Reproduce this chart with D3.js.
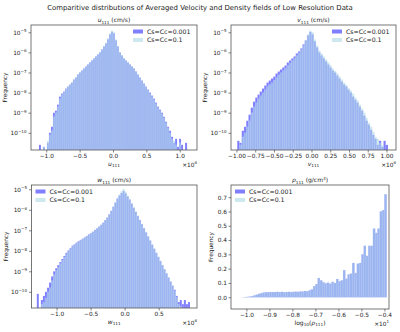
<!DOCTYPE html>
<head>
<meta charset="utf-8">
<script src="https://cdn.jsdelivr.net/npm/d3@7"></script>
<style>
  body { margin: 0; background: #fff; }
  text { font-family: "DejaVu Sans", sans-serif; fill: #222; }
</style>
</head>
<body>
<div id="chart"></div>
<script>
// ---- data (log10 of frequency per bin for the velocity panels, null = empty bin) ----
var seriesNames = ["Cs=Cc=0.001", "Cs=Cc=0.1"];

// u component, bins of 0.03 starting at -1.11 (x 1e6 cm/s)
var uStart = -1.11, uWidth = 0.03;
var uLow = [-10.6, null, -10.7, null, -10.5, -10.0, -9.7, -9.0, -8.9, -8.6,
  -8.2, -8.05, -7.95, -7.8, -7.7, -7.6, -7.5, -7.35, -7.25, -7.1,
  -7.0, -6.9, -6.8, -6.7, -6.6, -6.5, -6.4, -6.3, -6.2, -6.1,
  -6.0, -5.85, -5.7, -5.55, -5.35, -5.1, -4.97, -5.05, -5.4, -5.7,
  -6.0, -6.15, -6.3, -6.4, -6.5, -6.6, -6.7, -6.8, -6.95, -7.1,
  -7.25, -7.4, -7.55, -7.7, -7.85, -8.0, -8.15, -8.3, -8.5, -8.7,
  -8.85, -9.0, -9.2, -9.45, -9.7, -9.9, -10.2, -10.5, -10.3, -10.7,
  -10.3, -10.6, null, -10.5, null];
var uHigh = [null, null, -10.7, null, -10.4, -10.1, -9.9, -9.2, -9.0, -8.7,
  -8.3, -8.1, -7.98, -7.82, -7.7, -7.6, -7.5, -7.35, -7.25, -7.1,
  -7.0, -6.9, -6.8, -6.7, -6.6, -6.5, -6.4, -6.3, -6.2, -6.1,
  -6.0, -5.85, -5.7, -5.52, -5.3, -5.05, -4.92, -5.0, -5.35, -5.68,
  -5.98, -6.13, -6.28, -6.4, -6.5, -6.6, -6.7, -6.8, -6.95, -7.1,
  -7.25, -7.4, -7.55, -7.72, -7.88, -8.05, -8.2, -8.35, -8.55, -8.75,
  -8.9, -9.05, -9.25, -9.5, -9.75, -10.0, -10.3, -10.4, -10.6, null,
  -10.5, null, null, null, null];

// v component, bins of 0.03 starting at -0.99
var vStart = -0.99, vWidth = 0.03;
var vLow = [-10.4, -10.5, -9.9, -9.7, -9.4, -9.1, -8.75, -8.45, -8.25, -8.1,
  -7.95, -7.8, -7.65, -7.5, -7.4, -7.3, -7.2, -7.05, -6.95, -6.85,
  -6.75, -6.65, -6.5, -6.4, -6.3, -6.2, -6.05, -5.95, -5.8, -5.6,
  -5.4, -5.15, -4.98, -5.1, -5.45, -5.75, -6.0, -6.15, -6.3, -6.45,
  -6.6, -6.75, -6.9, -7.0, -7.15, -7.3, -7.45, -7.6, -7.7, -7.85,
  -8.0, -8.2, -8.35, -8.5, -8.7, -8.9, -9.15, -9.4, -9.6, -9.85,
  -10.1, -10.3, -10.6, -10.4, -10.7, -10.4, -10.6, null];
var vHigh = [null, -10.6, -10.2, -10.0, -9.7, -9.4, -9.0, -8.7, -8.5, -8.3,
  -8.15, -8.0, -7.85, -7.7, -7.6, -7.5, -7.38, -7.25, -7.12, -7.0,
  -6.9, -6.8, -6.65, -6.52, -6.4, -6.3, -6.15, -6.02, -5.85, -5.65,
  -5.4, -5.1, -4.92, -5.0, -5.35, -5.65, -5.9, -6.05, -6.2, -6.35,
  -6.5, -6.65, -6.8, -6.92, -7.05, -7.2, -7.35, -7.5, -7.62, -7.78,
  -7.9, -8.05, -8.25, -8.4, -8.6, -8.8, -9.0, -9.25, -9.5, -9.7,
  -9.95, -10.2, -10.3, -10.5, -10.6, null, null, null];

// w component, bins of 0.03 starting at -1.29
var wStart = -1.29, wWidth = 0.03;
var wLow = [-10.1, null, -10.4, -10.2, -10.0, -9.8, -9.55, -9.25, -9.0, -8.85,
  -8.7, -8.55, -8.4, -8.25, -8.1, -7.98, -7.87, -7.75, -7.68, -7.6,
  -7.53, -7.47, -7.41, -7.35, -7.28, -7.2, -7.14, -7.07, -6.98, -6.9,
  -6.82, -6.73, -6.63, -6.5, -6.38, -6.22, -6.05, -5.85, -5.65, -5.45,
  -5.3, -5.18, -5.08, -5.2, -5.35, -5.5, -5.7, -5.9, -6.1, -6.3,
  -6.5, -6.7, -6.9, -7.1, -7.3, -7.5, -7.7, -7.9, -8.1, -8.3,
  -8.5, -8.7, -8.9, -9.1, -9.3, -9.5, -9.7, -9.9, -10.2, -10.5,
  -10.4, -10.6, -10.4, -10.6, -10.5];
var wHigh = [null, null, -10.6, -10.5, -10.3, -10.0, -9.8, -9.45, -9.15, -8.95,
  -8.8, -8.62, -8.45, -8.3, -8.15, -8.0, -7.9, -7.78, -7.7, -7.62,
  -7.55, -7.48, -7.42, -7.36, -7.29, -7.21, -7.15, -7.07, -6.98, -6.9,
  -6.82, -6.73, -6.63, -6.5, -6.38, -6.22, -6.05, -5.85, -5.63, -5.42,
  -5.25, -5.1, -4.98, -5.12, -5.3, -5.47, -5.68, -5.88, -6.08, -6.28,
  -6.48, -6.68, -6.88, -7.08, -7.28, -7.48, -7.68, -7.88, -8.08, -8.28,
  -8.48, -8.68, -8.88, -9.08, -9.3, -9.5, -9.72, -9.95, -10.25, -10.6,
  -10.7, null, null, null, null];

// log10(rho), bins of 0.01 starting at -1.03 (x 10), plain frequency
var rStart = -1.03, rWidth = 0.01;
var rLow = [0.000, 0.001, 0.002, 0.003, 0.005, 0.008, 0.013, 0.018, 0.024, 0.029,
  0.033, 0.035, 0.036, 0.037, 0.037, 0.037, 0.038, 0.037, 0.038, 0.036,
  0.037, 0.038, 0.037, 0.038, 0.039, 0.038, 0.041, 0.040, 0.044, 0.042,
  0.048, 0.055, 0.078, 0.092, 0.135, 0.118, 0.105, 0.098, 0.102, 0.095,
  0.108, 0.100, 0.128, 0.112, 0.118, 0.19, 0.13, 0.16, 0.165, 0.24,
  0.17, 0.235, 0.24, 0.30, 0.36, 0.29, 0.36, 0.36, 0.48, 0.45,
  0.48, 0.60, 0.61, 0.72];
var rHigh = [0.000, 0.001, 0.002, 0.003, 0.005, 0.008, 0.013, 0.018, 0.024, 0.029,
  0.033, 0.035, 0.036, 0.037, 0.037, 0.037, 0.038, 0.037, 0.038, 0.036,
  0.037, 0.038, 0.037, 0.038, 0.039, 0.038, 0.041, 0.040, 0.044, 0.042,
  0.048, 0.055, 0.078, 0.092, 0.135, 0.118, 0.105, 0.098, 0.102, 0.095,
  0.108, 0.100, 0.128, 0.112, 0.118, 0.19, 0.13, 0.16, 0.165, 0.24,
  0.17, 0.235, 0.24, 0.30, 0.36, 0.29, 0.36, 0.36, 0.48, 0.45,
  0.48, 0.60, 0.61, 0.72];

// ticks
var uTicks = [-1.0, -0.5, 0.0, 0.5, 1.0];
var vTicks = [-1.0, -0.75, -0.5, -0.25, 0.0, 0.25, 0.5, 0.75, 1.0];
var wTicks = [-1.0, -0.5, 0.0, 0.5];
var rTicks = [-1.0, -0.9, -0.8, -0.7, -0.6, -0.5, -0.4];
var logTicks = [-10, -9, -8, -7, -6, -5];
var linTicks = [0, 0.1, 0.2, 0.3, 0.4, 0.5, 0.6, 0.7];

// ---- drawing ----
var W = 400, H = 332;
var colA = "#0000ff", opA = 0.5;
var colB = "#add8e6", opB = 0.6;
var fs = 5.8;

var svg = d3.select("#chart").append("svg").attr("width", W).attr("height", H);

svg.append("text")
  .attr("x", 200).attr("y", 10)
  .attr("text-anchor", "middle")
  .attr("font-size", 6.9)
  .text("Comparitive distributions of Averaged Velocity and Density fields of Low Resolution Data");

function minus(s) { return s.replace("-", "\u2212"); }

function mathText(sel, parts, size) {
  var shift = 0;
  parts.forEach(function(p) {
    var t = sel.append("tspan").text(p.t);
    var target = p.k == "sub" ? size * 0.3 : (p.k == "sup" ? -size * 0.4 : 0);
    if (target != shift) { t.attr("dy", target - shift); shift = target; }
    if (p.k) t.attr("font-size", size * 0.7);
    if (p.i) t.attr("font-style", "italic");
  });
}

var panels = [
  { box: [31, 25, 197, 150], xd: [-1.229, 1.259], log: true, yd: [-10.856, -4.637],
    start: uStart, width: uWidth, a: uLow, b: uHigh, ticks: uTicks, fmt: ".1f",
    title: [{t: "u", i: 1}, {t: "111", k: "sub"}, {t: " (cm/s)"}],
    xlabel: [{t: "u", i: 1}, {t: "111", k: "sub"}], offset: "6", legend: "right" },
  { box: [231, 25, 396, 150], xd: [-1.073, 1.127], log: true, yd: [-10.856, -4.637],
    start: vStart, width: vWidth, a: vLow, b: vHigh, ticks: vTicks, fmt: ".2f",
    title: [{t: "v", i: 1}, {t: "111", k: "sub"}, {t: " (cm/s)"}],
    xlabel: [{t: "v", i: 1}, {t: "111", k: "sub"}], offset: "6", legend: "right" },
  { box: [31.5, 185, 197, 308], xd: [-1.368, 1.063], log: true, yd: [-10.79, -4.79],
    start: wStart, width: wWidth, a: wLow, b: wHigh, ticks: wTicks, fmt: ".1f",
    title: [{t: "w", i: 1}, {t: "111", k: "sub"}, {t: " (cm/s)"}],
    xlabel: [{t: "w", i: 1}, {t: "111", k: "sub"}], offset: "6", legend: "left" },
  { box: [231, 185, 389, 309], xd: [-1.067, -0.380], log: false, yd: [-0.082, 0.785],
    start: rStart, width: rWidth, a: rLow, b: rHigh, ticks: rTicks, fmt: ".1f",
    title: [{t: "\u03c1", i: 1}, {t: "111", k: "sub"}, {t: " (g/cm"}, {t: "3", k: "sup"}, {t: ")"}],
    xlabel: [{t: "log"}, {t: "10", k: "sub"}, {t: "("}, {t: "\u03c1", i: 1}, {t: "111", k: "sub"}, {t: ")"}],
    offset: "1", legend: "left" }
];

panels.forEach(function(p, pi) {
  var x0 = p.box[0], y0 = p.box[1], x1 = p.box[2], y1 = p.box[3];
  var x = d3.scaleLinear().domain(p.xd).range([x0, x1]);
  var y;
  if (p.log) {
    y = d3.scaleLog().domain([Math.pow(10, p.yd[0]), Math.pow(10, p.yd[1])]).range([y1, y0]);
  } else {
    y = d3.scaleLinear().domain(p.yd).range([y1, y0]);
  }
  var g = svg.append("g");

  svg.append("clipPath").attr("id", "clip" + pi)
    .append("rect").attr("x", x0).attr("y", y0).attr("width", x1 - x0).attr("height", y1 - y0);

  var bars = g.append("g").attr("clip-path", "url(#clip" + pi + ")");
  [[p.a, colA, opA], [p.b, colB, opB]].forEach(function(s) {
    var data = s[0].map(function(v, i) { return { i: i, v: v }; })
      .filter(function(d) { return d.v != null; });
    bars.append("g").selectAll("rect")
      .data(data)
      .enter().append("rect")
      .attr("x", function(d) { return x(p.start + d.i * p.width); })
      .attr("width", function(d) { return x(p.start + (d.i + 1) * p.width) - x(p.start + d.i * p.width); })
      .attr("y", function(d) { return p.log ? y(Math.pow(10, d.v)) : y(d.v); })
      .attr("height", function(d) {
        var top = p.log ? y(Math.pow(10, d.v)) : y(d.v);
        var base = p.log ? y1 : y(0);
        return Math.max(0, base - top);
      })
      .attr("fill", s[1])
      .attr("fill-opacity", s[2])
      .attr("stroke", "#fff")
      .attr("stroke-width", 0.2)
      .attr("stroke-opacity", 0.35);
  });

  // spines
  g.append("rect")
    .attr("x", x0).attr("y", y0).attr("width", x1 - x0).attr("height", y1 - y0)
    .attr("fill", "none").attr("stroke", "#555").attr("stroke-width", 0.8);

  // x axis
  var xa = g.append("g").attr("transform", "translate(0," + y1 + ")")
    .call(d3.axisBottom(x).tickValues(p.ticks).tickSize(2.5).tickPadding(1.5)
      .tickFormat(function(d) { return minus(d3.format(p.fmt)(d)); }));
  xa.select(".domain").remove();
  xa.selectAll("line").attr("stroke", "#333").attr("stroke-width", 0.6);
  xa.selectAll("text").attr("font-size", fs).attr("font-family", "DejaVu Sans").attr("fill", "#222");

  // y axis
  var ya = g.append("g").attr("transform", "translate(" + x0 + ",0)");
  if (p.log) {
    ya.call(d3.axisLeft(y).tickValues(logTicks.map(function(e) { return Math.pow(10, e); }))
      .tickSize(2.5).tickPadding(1.5).tickFormat(""));
    ya.selectAll(".tick").each(function(d) {
      var e = Math.round(Math.log10(d));
      var t = d3.select(this).append("text")
        .attr("x", -4.5).attr("dy", "0.32em")
        .attr("text-anchor", "end").attr("font-size", fs);
      mathText(t, [{t: "10"}, {t: minus(String(e)), k: "sup"}], fs);
    });
  } else {
    ya.call(d3.axisLeft(y).tickValues(linTicks).tickSize(2.5).tickPadding(1.5)
      .tickFormat(d3.format(".1f")));
    ya.selectAll("text").attr("font-size", fs).attr("font-family", "DejaVu Sans").attr("fill", "#222");
  }
  ya.select(".domain").remove();
  ya.selectAll("line").attr("stroke", "#333").attr("stroke-width", 0.6);

  // y label
  var ylx = p.log ? x0 - 24 : x0 - 18;
  g.append("text")
    .attr("transform", "translate(" + ylx + "," + ((y0 + y1) / 2) + ") rotate(-90)")
    .attr("text-anchor", "middle").attr("font-size", fs)
    .text("Frequency");

  // title
  var tt = g.append("text").attr("x", (x0 + x1) / 2).attr("y", y0 - 3)
    .attr("text-anchor", "middle").attr("font-size", 6);
  mathText(tt, p.title, 6);

  // x label
  var xl = g.append("text").attr("x", (x0 + x1) / 2).attr("y", y1 + 15.5)
    .attr("text-anchor", "middle").attr("font-size", 6);
  mathText(xl, p.xlabel, 6);

  // offset text
  var ot = g.append("text").attr("x", x1).attr("y", y1 + 16.5)
    .attr("text-anchor", "end").attr("font-size", fs);
  mathText(ot, [{t: "\u00d710"}, {t: p.offset, k: "sup"}], fs);

  // legend
  var lx = p.legend == "right" ? x1 - 64 : x0 + 4;
  var ly = y0 + 6.5;
  [[colA, opA], [colB, opB]].forEach(function(c, i) {
    g.append("rect")
      .attr("x", lx).attr("y", ly + i * 8.5 - 2)
      .attr("width", 10).attr("height", 4)
      .attr("fill", c[0]).attr("fill-opacity", c[1]);
    g.append("text")
      .attr("x", lx + 14).attr("y", ly + i * 8.5 + 2.2)
      .attr("font-size", 6.2)
      .text(seriesNames[i]);
  });
});
</script>
</body>
